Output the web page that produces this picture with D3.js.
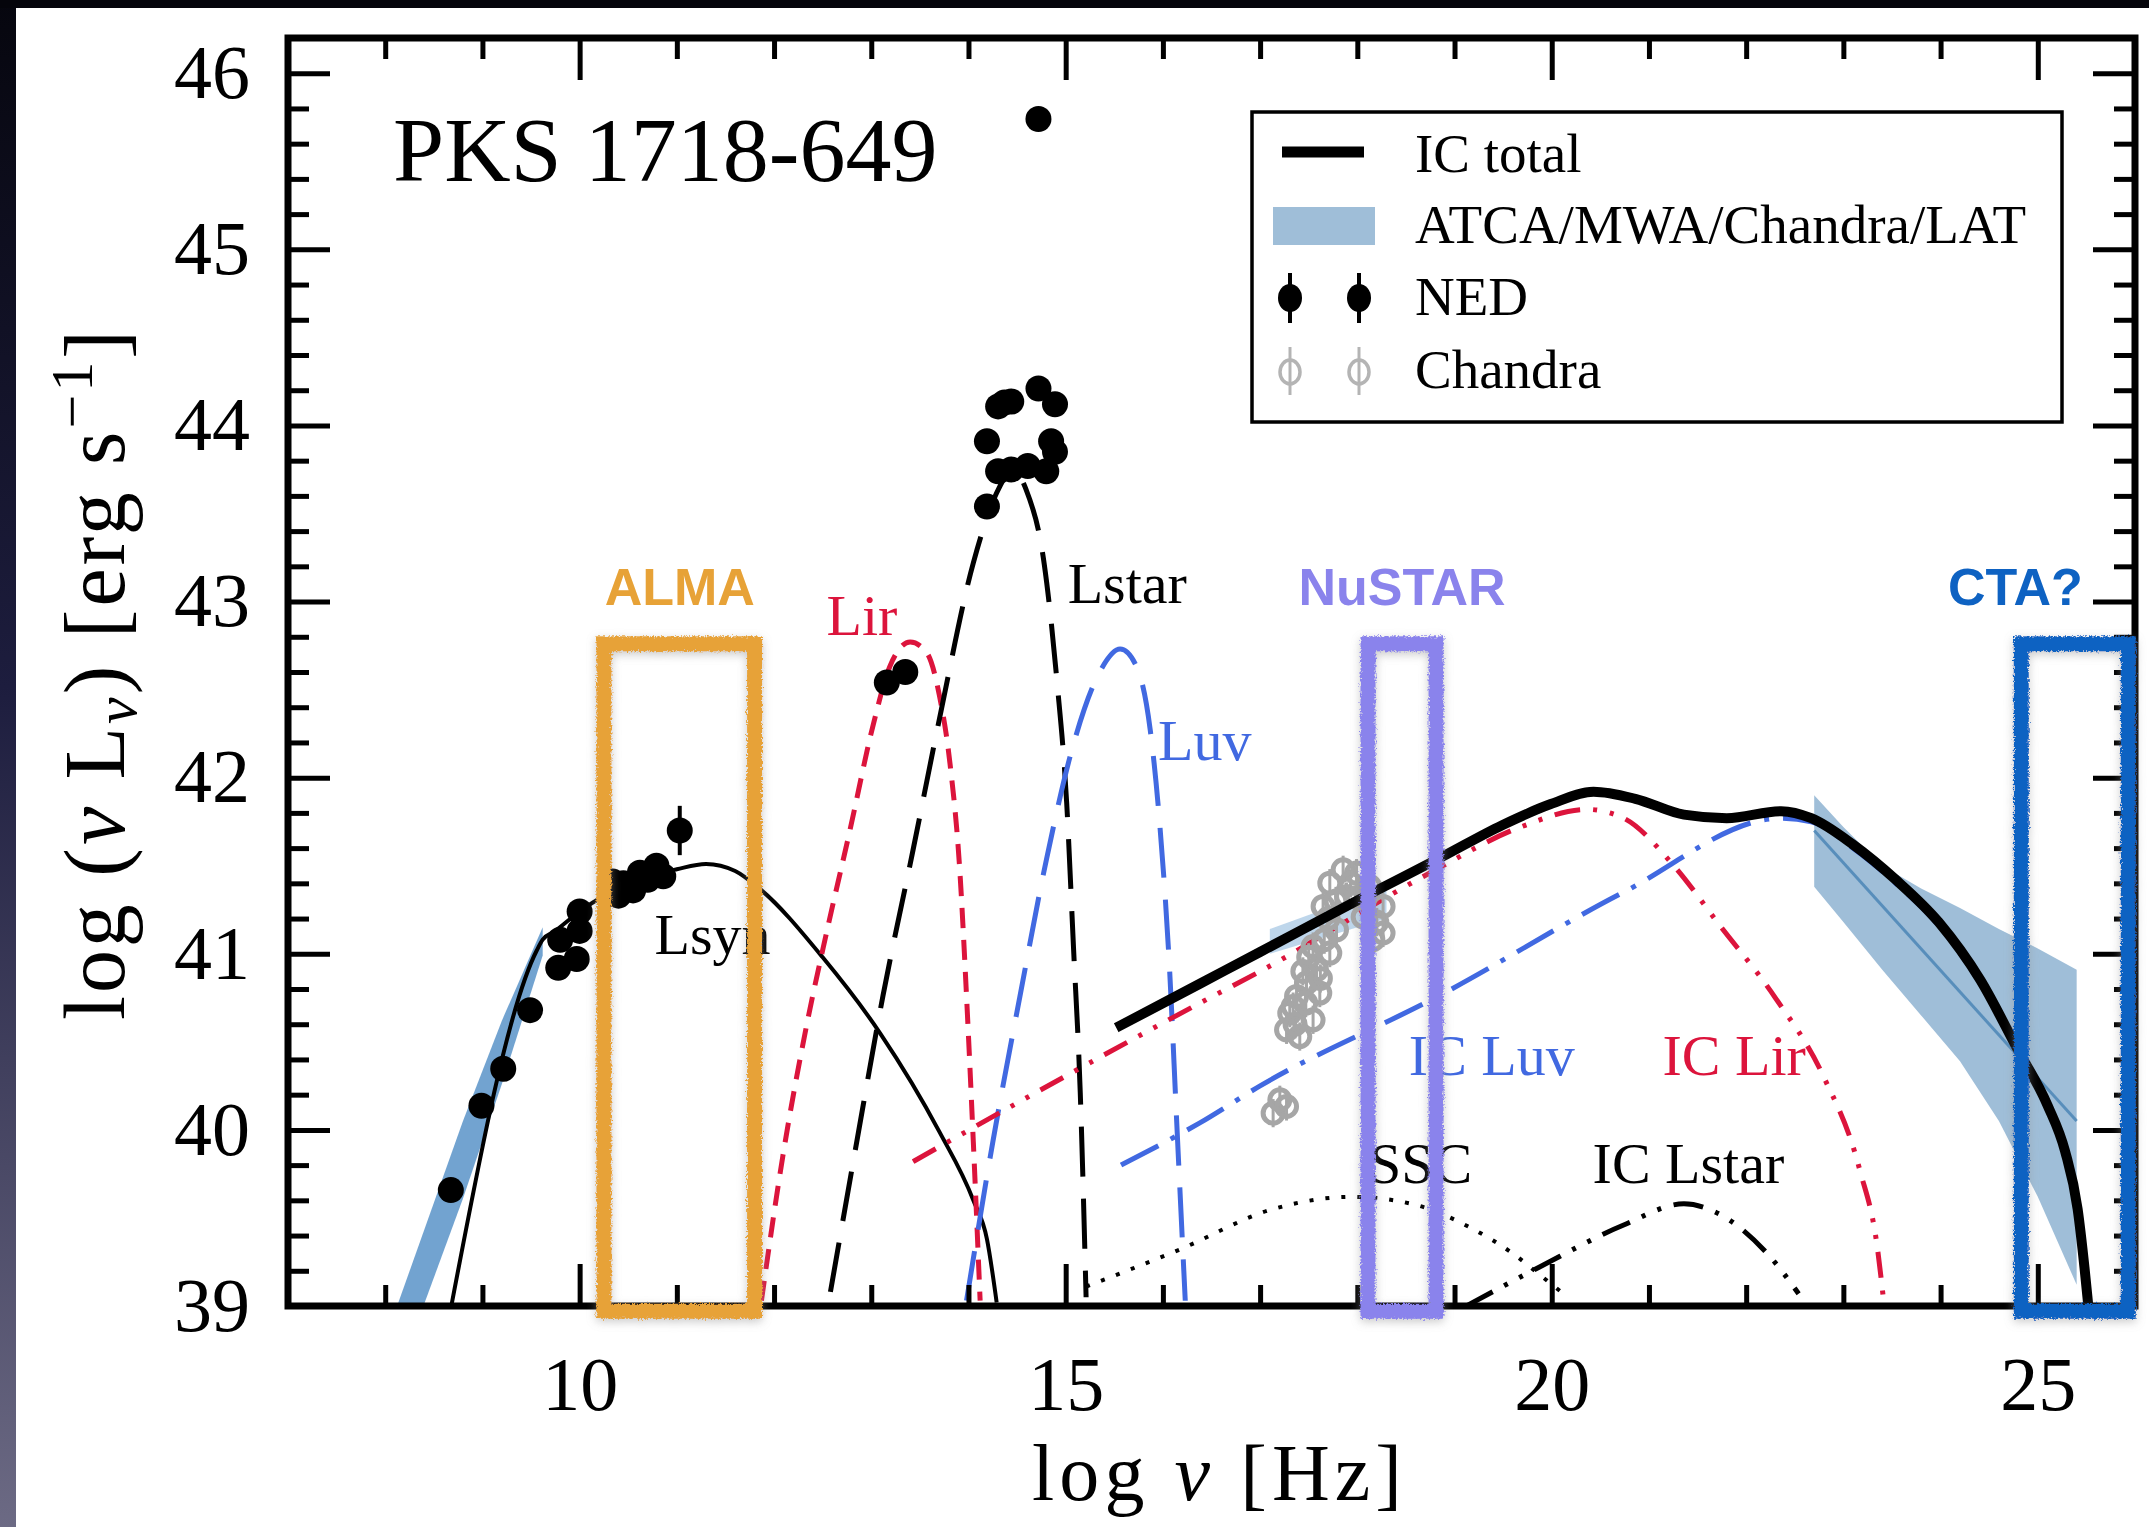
<!DOCTYPE html>
<html>
<head>
<meta charset="utf-8">
<script src="https://cdn.jsdelivr.net/npm/d3@7"></script>
<style>
  body { margin: 0; background: #fff; }
  svg { display: block; }
</style>
</head>
<body>
<svg id="chart" width="2149" height="1527"></svg>
<script>
// ---------- data (log nu [Hz], log nu L_nu [erg/s]) ----------
const lsynX = [8.68, 9.56, 9.62, 9.75, 10.0, 10.5, 11.0, 11.3, 11.6, 11.85, 12.5, 13.09, 13.7, 14.05, 14.19, 14.29];
const lsynY = [39.0, 41.02, 41.08, 41.13, 41.24, 41.40, 41.48, 41.51, 41.47, 41.37, 40.98, 40.55, 39.99, 39.60, 39.38, 39.02];

const lirX = [11.87, 12.09, 12.33, 12.54, 12.78, 13.02, 13.19, 13.40, 13.57, 13.70, 13.81, 13.91, 13.98, 14.05, 14.12];
const lirY = [39.03, 39.85, 40.58, 41.12, 41.70, 42.30, 42.63, 42.77, 42.71, 42.47, 42.08, 41.48, 40.76, 39.93, 39.03];

const lstarX = [12.58, 12.85, 13.12, 13.43, 13.70, 14.05, 14.31, 14.45, 14.59, 14.78, 14.91, 15.01, 15.08, 15.15, 15.21];
const lstarY = [39.08, 39.93, 40.76, 41.59, 42.33, 43.22, 43.64, 43.75, 43.64, 43.21, 42.55, 41.86, 41.04, 40.21, 39.05];

const luvX = [13.98, 14.25, 14.53, 14.80, 15.08, 15.35, 15.56, 15.73, 15.87, 15.97, 16.07, 16.14, 16.23];
const luvY = [39.03, 39.93, 40.76, 41.53, 42.19, 42.60, 42.73, 42.63, 42.27, 41.72, 40.90, 40.07, 39.03];

const icTotalX = [15.52, 16.38, 17.0, 18.06, 18.87, 19.49, 19.99, 20.43, 20.86, 21.36, 21.80, 22.36, 22.67, 23.10, 23.54, 23.98, 24.41, 24.79, 25.10, 25.28, 25.41, 25.48, 25.52];
const icTotalY = [40.58, 40.83, 41.01, 41.32, 41.55, 41.73, 41.85, 41.92, 41.88, 41.79, 41.77, 41.81, 41.77, 41.62, 41.42, 41.18, 40.85, 40.46, 40.14, 39.88, 39.55, 39.22, 39.0];

const icLirX = [13.43, 15.08, 16.38, 17.0, 18.75, 19.68, 20.36, 20.74, 21.24, 21.73, 22.30, 22.79, 23.17, 23.35, 23.42];
const icLirY = [39.82, 40.33, 40.72, 40.90, 41.46, 41.72, 41.82, 41.77, 41.51, 41.16, 40.75, 40.31, 39.77, 39.33, 39.0];

const icLuvX = [15.57, 16.38, 17.0, 18.87, 20.74, 22.36, 22.67, 23.10, 23.54, 23.98, 24.41, 24.79, 25.10, 25.28, 25.41, 25.48, 25.52];
const icLuvY = [39.80, 40.04, 40.25, 40.77, 41.35, 41.77, 41.75, 41.60, 41.40, 41.16, 40.83, 40.44, 40.12, 39.86, 39.53, 39.20, 38.98];

const sscX = [15.21, 16.17, 17.13, 17.94, 18.56, 19.18, 19.62, 19.87, 20.12];
const sscY = [39.11, 39.32, 39.55, 39.62, 39.58, 39.44, 39.29, 39.18, 39.07];

const icLstarX = [19.12, 19.87, 20.74, 21.36, 21.73, 22.23, 22.54];
const icLstarY = [39.0, 39.22, 39.46, 39.58, 39.52, 39.29, 39.07];

// ATCA/MWA radio band, Chandra band, LAT bowtie
const radioBandX = [8.0, 8.4, 8.8, 9.2, 9.62];
const radioBandLo = [38.41, 39.01, 39.61, 40.26, 40.99];
const radioBandHi = [38.81, 39.43, 40.05, 40.62, 41.15];

const xrayBandX = [17.1, 18.3];
const xrayBandLo = [41.0, 41.2];
const xrayBandHi = [41.14, 41.38];

const latBandX = [22.70, 23.0, 23.4, 23.8, 24.2, 24.6, 25.0, 25.4];
const latBandLo = [41.38, 41.18, 40.91, 40.65, 40.39, 40.05, 39.62, 39.12];
const latBandHi = [41.90, 41.72, 41.50, 41.37, 41.26, 41.14, 41.03, 40.91];
const latMidX = [22.70, 25.4];
const latMidY = [41.70, 40.05];

// NED photometry
const nedX = [8.675, 8.99, 9.214, 9.49, 9.78, 9.97, 9.80, 10.0, 10.0, 10.31, 10.34, 10.45, 10.55, 10.62, 10.79, 10.86, 10.40, 10.70, 11.03,
              13.16, 13.35,
              14.19, 14.305, 14.44, 14.72, 14.89, 14.85, 14.89, 14.305, 14.44, 14.61, 14.80, 14.19, 14.37, 14.72];
const nedY = [39.658, 40.137, 40.347, 40.68, 40.92, 40.97, 41.08, 41.13, 41.24, 41.34, 41.41, 41.40, 41.36, 41.46, 41.50, 41.44, 41.33, 41.42, 41.70,
              42.54, 42.60,
              43.91, 44.108, 44.136, 44.21, 44.12, 43.91, 43.85, 43.74, 43.75, 43.77, 43.74, 43.54, 44.13, 45.74];
const nedErr = [0, 0, 0, 0, 0, 0, 0, 0, 0, 0, 0, 0, 0, 0, 0, 0, 0, 0, 0.14,
                0, 0,
                0, 0, 0, 0, 0, 0, 0, 0, 0, 0, 0, 0, 0, 0];

// Chandra knots
const chandraX = [17.717, 17.854, 17.992, 18.128, 18.265, 18.265, 18.16, 17.648, 17.786, 17.717, 17.58, 17.477, 17.375,
                  17.305, 17.272, 17.408, 17.545, 17.614, 17.545, 17.889, 18.06, 17.134, 17.272, 17.203,
                  17.78, 17.93, 17.70, 17.66, 17.50, 17.44, 17.34, 17.36, 17.47, 17.62, 18.00, 18.20];
const chandraY = [41.401, 41.477, 41.458, 41.382, 41.269, 41.118, 41.08, 41.269, 41.136, 41.004, 40.909, 40.834, 40.758,
                  40.663, 40.568, 40.530, 40.625, 40.777, 41.041, 41.325, 41.21, 40.095, 40.133, 40.171,
                  41.30, 41.40, 41.20, 41.08, 40.98, 40.90, 40.70, 40.60, 40.72, 40.86, 41.32, 41.18];

// component labels
const compNames = ["Lsyn", "Lir", "Lstar", "Luv", "IC Luv", "IC Lir", "SSC", "IC Lstar"];
const compLabelX = [10.77, 12.54, 15.02, 15.95, 18.53, 21.14, 18.12, 20.42];
const compLabelY = [41.0, 42.81, 42.99, 42.10, 40.31, 40.31, 39.70, 39.70];

// instrument windows
const instNames = ["ALMA", "NuSTAR", "CTA?"];
const instLo = [10.25, 18.11, 24.83];
const instHi = [11.8, 18.81, 25.93];
const instTop = 42.76;
const instLabelX = [11.03, 18.46, 24.77];

const xMajor = [10, 15, 20, 25];
const yMajor = [39, 40, 41, 42, 43, 44, 45, 46];

// ---------- styles ----------
const crimson = "#DC143C", royal = "#4169E1", steel = "#4682B4";
const compColors = ["#000", crimson, "#000", royal, royal, crimson, "#000", "#000"];
const instColors = ["#E7A237", "#8A83EC", "#0E62C2"];
const serif = "'Liberation Serif', 'Times New Roman', serif";
const sans = "'Liberation Sans', Arial, sans-serif";

const W = 2149, H = 1527;
const svg = d3.select("#chart");
const x = d3.scaleLinear().domain([7, 26]).range([288, 2135]);
const y = d3.scaleLinear().domain([39, 46.2]).range([1306, 38]);

const defs = svg.append("defs");
const grad = defs.append("linearGradient").attr("id", "edge").attr("x1", 0).attr("y1", 0).attr("x2", 0).attr("y2", 1);
grad.append("stop").attr("offset", "0%").attr("stop-color", "#06060e");
grad.append("stop").attr("offset", "45%").attr("stop-color", "#1d1d3e");
grad.append("stop").attr("offset", "100%").attr("stop-color", "#6c6a84");
defs.append("clipPath").attr("id", "plotClip").append("rect")
    .attr("x", x(7)).attr("y", y(46.2)).attr("width", x(26) - x(7)).attr("height", y(39) - y(46.2));
const filt = defs.append("filter").attr("id", "sketch").attr("filterUnits", "userSpaceOnUse")
    .attr("x", 0).attr("y", 0).attr("width", W).attr("height", H);
filt.append("feTurbulence").attr("type", "fractalNoise").attr("baseFrequency", 0.55).attr("numOctaves", 2).attr("seed", 4).attr("result", "noise");
filt.append("feDisplacementMap").attr("in", "SourceGraphic").attr("in2", "noise").attr("scale", 6)
    .attr("xChannelSelector", "R").attr("yChannelSelector", "G").attr("result", "rough");
filt.append("feGaussianBlur").attr("in", "rough").attr("stdDeviation", 5).attr("result", "blur");
filt.append("feOffset").attr("in", "blur").attr("dx", 0).attr("dy", 3).attr("result", "off");
filt.append("feColorMatrix").attr("in", "off").attr("type", "matrix")
    .attr("values", "0 0 0 0 0.3  0 0 0 0 0.3  0 0 0 0 0.3  0 0 0 0.5 0").attr("result", "shadow");
const merge = filt.append("feMerge");
merge.append("feMergeNode").attr("in", "shadow");
merge.append("feMergeNode").attr("in", "rough");

// background + dark slide edges
svg.append("rect").attr("width", W).attr("height", H).attr("fill", "#fff");
svg.append("rect").attr("x", 0).attr("y", 0).attr("width", 16).attr("height", H).attr("fill", "url(#edge)");
svg.append("rect").attr("x", 0).attr("y", 0).attr("width", W).attr("height", 8).attr("fill", "#05050b");

const g = svg.append("g").attr("clip-path", "url(#plotClip)");

// ---------- bands ----------
function band(xs, lo, hi, fill, op) {
    const pts = xs.map((d, i) => ({x: d, lo: lo[i], hi: hi[i]}));
    g.append("path").datum(pts)
        .attr("d", d3.area().x(d => x(d.x)).y0(d => y(d.lo)).y1(d => y(d.hi)))
        .attr("fill", fill).attr("fill-opacity", op);
}
band(radioBandX, radioBandLo, radioBandHi, "#4f8cc4", 0.8);
band(xrayBandX, xrayBandLo, xrayBandHi, "#6fa3d2", 0.45);
band(latBandX, latBandLo, latBandHi, steel, 0.52);
g.append("path").datum(latMidX.map((d, i) => [d, latMidY[i]]))
    .attr("d", d3.line().x(d => x(d[0])).y(d => y(d[1])))
    .attr("stroke", steel).attr("stroke-opacity", 0.8).attr("stroke-width", 3).attr("fill", "none");

// ---------- model curves ----------
function curve(xs, ys, color, width, dash) {
    g.append("path").datum(xs.map((d, i) => [d, ys[i]]))
        .attr("d", d3.line().x(d => x(d[0])).y(d => y(d[1])).curve(d3.curveMonotoneX))
        .attr("fill", "none").attr("stroke", color).attr("stroke-width", width)
        .attr("stroke-dasharray", dash || null);
}
curve(lsynX, lsynY, "#000", 4);
curve(lirX, lirY, crimson, 5, "20,12");
curve(lstarX, lstarY, "#000", 5, "50,22");
curve(luvX, luvY, royal, 5, "50,22");
curve(sscX, sscY, "#000", 4, "4,12");
curve(icLstarX, icLstarY, "#000", 5, "30,13,4,13,4,13");
curve(icLuvX, icLuvY, royal, 5, "42,14,5,14");
curve(icLirX, icLirY, crimson, 5, "26,13,4,13,4,13");

// ---------- data points ----------
const chandra = chandraX.map((d, i) => ({x: d, y: chandraY[i]}));
g.selectAll(".cerr").data(chandra).join("line")
    .attr("x1", d => x(d.x)).attr("x2", d => x(d.x))
    .attr("y1", d => y(d.y + 0.08)).attr("y2", d => y(d.y - 0.08))
    .attr("stroke", "#a6a6a6").attr("stroke-width", 3);
g.selectAll(".cpt").data(chandra).join("circle")
    .attr("cx", d => x(d.x)).attr("cy", d => y(d.y)).attr("r", 10)
    .attr("fill", "none").attr("stroke", "#a6a6a6").attr("stroke-width", 5);

curve(icTotalX, icTotalY, "#000", 10);

const ned = nedX.map((d, i) => ({x: d, y: nedY[i], e: nedErr[i]}));
g.selectAll(".nerr").data(ned.filter(d => d.e > 0)).join("line")
    .attr("x1", d => x(d.x)).attr("x2", d => x(d.x))
    .attr("y1", d => y(d.y + d.e)).attr("y2", d => y(d.y - d.e))
    .attr("stroke", "#000").attr("stroke-width", 4);
g.selectAll(".npt").data(ned).join("circle")
    .attr("cx", d => x(d.x)).attr("cy", d => y(d.y)).attr("r", 13).attr("fill", "#000");

// ---------- axes (ticks inward on all sides) ----------
function styleAxis(sel) {
    sel.select(".domain").remove();
    sel.selectAll(".tick line").attr("stroke", "#000").attr("stroke-width", 5);
    sel.selectAll(".tick text").attr("font-family", serif).attr("font-size", 76).attr("fill", "#000");
}
const xMinor = d3.range(8, 26).filter(v => !xMajor.includes(v));
const yMinor = d3.range(39, 46.2, 0.2).map(v => +v.toFixed(1)).filter(v => !yMajor.includes(v));

svg.append("g").attr("transform", `translate(0,${y(39)})`)
    .call(d3.axisBottom(x).tickValues(xMajor).tickSize(-42).tickPadding(50).tickFormat(d3.format("d"))).call(styleAxis);
svg.append("g").attr("transform", `translate(0,${y(39)})`)
    .call(d3.axisBottom(x).tickValues(xMinor).tickSize(-21).tickFormat("")).call(styleAxis);
svg.append("g").attr("transform", `translate(0,${y(46.2)})`)
    .call(d3.axisTop(x).tickValues(xMajor).tickSize(-42).tickFormat("")).call(styleAxis);
svg.append("g").attr("transform", `translate(0,${y(46.2)})`)
    .call(d3.axisTop(x).tickValues(xMinor).tickSize(-21).tickFormat("")).call(styleAxis);
svg.append("g").attr("transform", `translate(${x(7)},0)`)
    .call(d3.axisLeft(y).tickValues(yMajor).tickSize(-42).tickPadding(38).tickFormat(d3.format("d"))).call(styleAxis);
svg.append("g").attr("transform", `translate(${x(7)},0)`)
    .call(d3.axisLeft(y).tickValues(yMinor).tickSize(-21).tickFormat("")).call(styleAxis);
svg.append("g").attr("transform", `translate(${x(26)},0)`)
    .call(d3.axisRight(y).tickValues(yMajor).tickSize(-42).tickFormat("")).call(styleAxis);
svg.append("g").attr("transform", `translate(${x(26)},0)`)
    .call(d3.axisRight(y).tickValues(yMinor).tickSize(-21).tickFormat("")).call(styleAxis);

svg.append("rect").attr("x", x(7)).attr("y", y(46.2)).attr("width", x(26) - x(7)).attr("height", y(39) - y(46.2))
    .attr("fill", "none").attr("stroke", "#000").attr("stroke-width", 7);

// axis titles
const xlab = svg.append("text").attr("x", 1217).attr("y", 1500).attr("text-anchor", "middle")
    .attr("font-family", serif).attr("font-size", 80)
    .attr("textLength", 370).attr("lengthAdjust", "spacing");
xlab.append("tspan").text("log ");
xlab.append("tspan").attr("font-style", "italic").text("ν");
xlab.append("tspan").text(" [Hz]");

const ylab = svg.append("text").attr("transform", "translate(124,675) rotate(-90)").attr("text-anchor", "middle")
    .attr("font-family", serif).attr("font-size", 86)
    .attr("textLength", 690).attr("lengthAdjust", "spacing");
ylab.append("tspan").text("log (");
ylab.append("tspan").attr("font-style", "italic").text("ν");
ylab.append("tspan").text(" L");
ylab.append("tspan").attr("font-style", "italic").attr("font-size", 60).attr("dy", 12).text("ν");
ylab.append("tspan").attr("dy", -12).text(") [erg s");
ylab.append("tspan").attr("font-size", 60).attr("dy", -32).text("−1");
ylab.append("tspan").attr("dy", 32).text("]");

// source name
svg.append("text").attr("x", 393).attr("y", 181).attr("font-family", serif).attr("font-size", 92).text("PKS 1718-649");

// component labels
svg.selectAll(".clab").data(compNames).join("text")
    .attr("x", (d, i) => x(compLabelX[i])).attr("y", (d, i) => y(compLabelY[i]))
    .attr("font-family", serif).attr("font-size", 58).attr("fill", (d, i) => compColors[i]).text(d => d);

// ---------- legend ----------
const leg = svg.append("g");
leg.append("rect").attr("x", 1252).attr("y", 112).attr("width", 810).attr("height", 310)
    .attr("fill", "#fff").attr("stroke", "#000").attr("stroke-width", 3.5);
leg.append("line").attr("x1", 1282).attr("x2", 1364).attr("y1", 152).attr("y2", 152).attr("stroke", "#000").attr("stroke-width", 11);
leg.append("rect").attr("x", 1273).attr("y", 207).attr("width", 102).attr("height", 38).attr("fill", steel).attr("fill-opacity", 0.52);
[1290, 1359].forEach(cx => {
    leg.append("line").attr("x1", cx).attr("x2", cx).attr("y1", 273).attr("y2", 323).attr("stroke", "#000").attr("stroke-width", 4);
    leg.append("ellipse").attr("cx", cx).attr("cy", 298).attr("rx", 12).attr("ry", 14).attr("fill", "#000");
    leg.append("line").attr("x1", cx).attr("x2", cx).attr("y1", 347).attr("y2", 395).attr("stroke", "#b4b4b4").attr("stroke-width", 3);
    leg.append("ellipse").attr("cx", cx).attr("cy", 372).attr("rx", 10).attr("ry", 12)
        .attr("fill", "none").attr("stroke", "#b4b4b4").attr("stroke-width", 3.5);
});
const legText = ["IC total", "ATCA/MWA/Chandra/LAT", "NED", "Chandra"];
const legBase = [172, 243, 315, 388];
leg.selectAll(".lt").data(legText).join("text")
    .attr("x", 1415).attr("y", (d, i) => legBase[i])
    .attr("font-family", serif).attr("font-size", 55).text(d => d);

// ---------- instrument windows (hand-drawn boxes) ----------
const inst = instNames.map((d, i) => ({name: d, lo: instLo[i], hi: instHi[i], lx: instLabelX[i], c: instColors[i]}));
svg.selectAll(".ibox").data(inst).join("rect")
    .attr("x", d => x(d.lo)).attr("y", y(instTop))
    .attr("width", d => x(d.hi) - x(d.lo)).attr("height", y(38.97) - y(instTop))
    .attr("fill", "none").attr("stroke", d => d.c).attr("stroke-width", 15)
    .attr("filter", "url(#sketch)");
svg.selectAll(".ilab").data(inst).join("text")
    .attr("x", d => x(d.lx)).attr("y", 605).attr("text-anchor", "middle")
    .attr("font-family", sans).attr("font-weight", "bold").attr("font-size", 52)
    .attr("fill", d => d.c).text(d => d.name);
</script>
</body>
</html>
